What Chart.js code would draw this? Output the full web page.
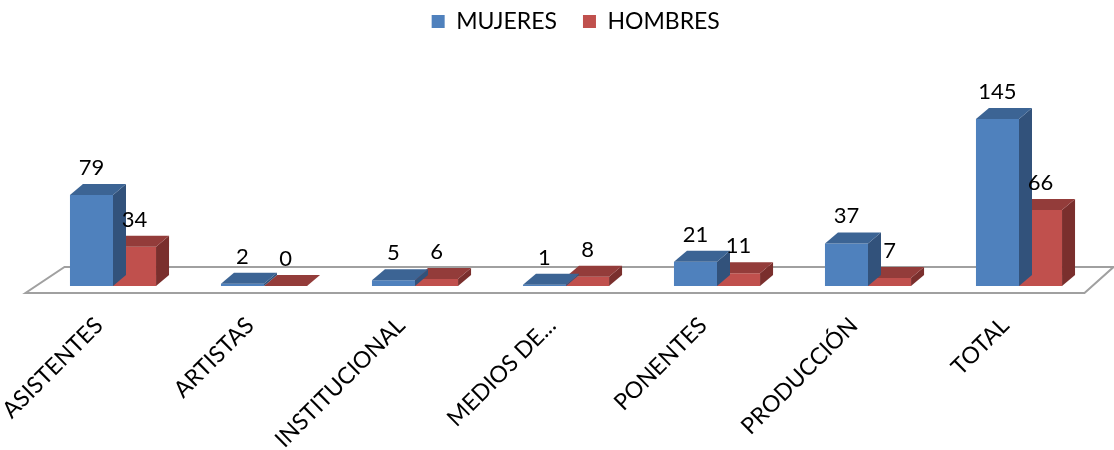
<!DOCTYPE html>
<html><head><meta charset="utf-8">
<script src="https://cdn.jsdelivr.net/npm/chart.js@4"></script>
<style>html,body{margin:0;padding:0;background:#fff}#wrap{width:1114px;height:450px}</style>
</head><body><div id="wrap"><canvas id="c" width="1114" height="450"></canvas></div>
<script>
const categories = ['ASISTENTES','ARTISTAS','INSTITUCIONAL','MEDIOS DE...','PONENTES','PRODUCCIÓN','TOTAL'];
const mujeres = [79, 2, 5, 1, 21, 37, 145];
const hombres = [34, 0, 6, 8, 11, 7, 66];
const seriesNames = ['MUJERES', 'HOMBRES'];

const FONT = 'Lato, "Liberation Sans", sans-serif';
const DX = 13, DY = 11;
const faceColors = [{top:'#3C6494', side:'#32527B'}, {top:'#933C3A', side:'#7A2F2D'}];

const threeD = {
  id: 'threeD',
  beforeDatasetsDraw(chart) {
    const ctx = chart.ctx, a = chart.chartArea;
    const y0 = chart.scales.y.getPixelForValue(0);
    const fy = y0 + 7, by = y0 - 19;
    ctx.save();
    ctx.beginPath();
    ctx.moveTo(a.left - 12, fy);
    ctx.lineTo(a.right - 10, fy);
    ctx.lineTo(a.right + 19, by);
    ctx.lineTo(a.left + 27, by);
    ctx.closePath();
    ctx.fillStyle = '#fff';
    ctx.fill();
    ctx.strokeStyle = '#A0A0A0';
    ctx.lineWidth = 2;
    ctx.stroke();
    ctx.restore();
  },
  afterDatasetDraw(chart, args) {
    const ctx = chart.ctx, c = faceColors[args.index];
    ctx.save();
    args.meta.data.forEach(bar => {
      const p = bar.getProps(['x','y','base','width'], true);
      const l = p.x - p.width/2, r = p.x + p.width/2;
      ctx.beginPath();
      ctx.moveTo(r, p.y); ctx.lineTo(r+DX, p.y-DY); ctx.lineTo(r+DX, p.base-DY); ctx.lineTo(r, p.base); ctx.closePath();
      ctx.fillStyle = c.side; ctx.fill();
      ctx.beginPath();
      ctx.moveTo(l, p.y); ctx.lineTo(r, p.y); ctx.lineTo(r+DX, p.y-DY); ctx.lineTo(l+DX, p.y-DY); ctx.closePath();
      ctx.fillStyle = c.top; ctx.fill();
    });
    ctx.restore();
  },
  afterDatasetsDraw(chart) {
    const ctx = chart.ctx;
    ctx.save();
    ctx.font = '22px ' + FONT;
    ctx.fillStyle = '#000';
    ctx.textAlign = 'center';
    ctx.textBaseline = 'middle';
    chart.data.datasets.forEach((ds, i) => {
      chart.getDatasetMeta(i).data.forEach((bar, j) => {
        const p = bar.getProps(['x','y'], true);
        ctx.fillText(String(ds.data[j]), p.x, p.y - 27);
      });
    });
    ctx.restore();
  }
};

new Chart(document.getElementById('c'), {
  type: 'bar',
  data: {
    labels: categories,
    datasets: [
      {label: seriesNames[0], data: mujeres, backgroundColor: '#4F81BD', borderWidth: 0},
      {label: seriesNames[1], data: hombres, backgroundColor: '#C0504D', borderWidth: 0}
    ]
  },
  options: {
    responsive: false,
    devicePixelRatio: 1,
    animation: false,
    layout: {padding: {left: 37.5, right: 0, top: -16, bottom: 0}},
    datasets: {bar: {categoryPercentage: 0.57, barPercentage: 1}},
    plugins: {
      tooltip: {enabled: false},
      legend: {
        position: 'top',
        labels: {boxWidth: 13, boxHeight: 13, padding: 26, color: '#000', font: {family: FONT, size: 23}}
      }
    },
    scales: {
      x: {
        grid: {display: false},
        border: {display: false},
        ticks: {color: '#000', font: {family: FONT, size: 23}, minRotation: 45, maxRotation: 45, autoSkip: false, padding: 18, labelOffset: -14},
        afterFit(scale) { scale.height = 164; scale.paddingLeft = 0; scale.paddingRight = 0; }
      },
      y: {
        position: 'right', min: 0, max: 211,
        grid: {display: false}, border: {display: false}, ticks: {display: false},
        afterFit(scale) { scale.width = 19.5; scale.paddingTop = 0; scale.paddingBottom = 0; }
      }
    }
  },
  plugins: [threeD]
});
</script>
</body></html>
